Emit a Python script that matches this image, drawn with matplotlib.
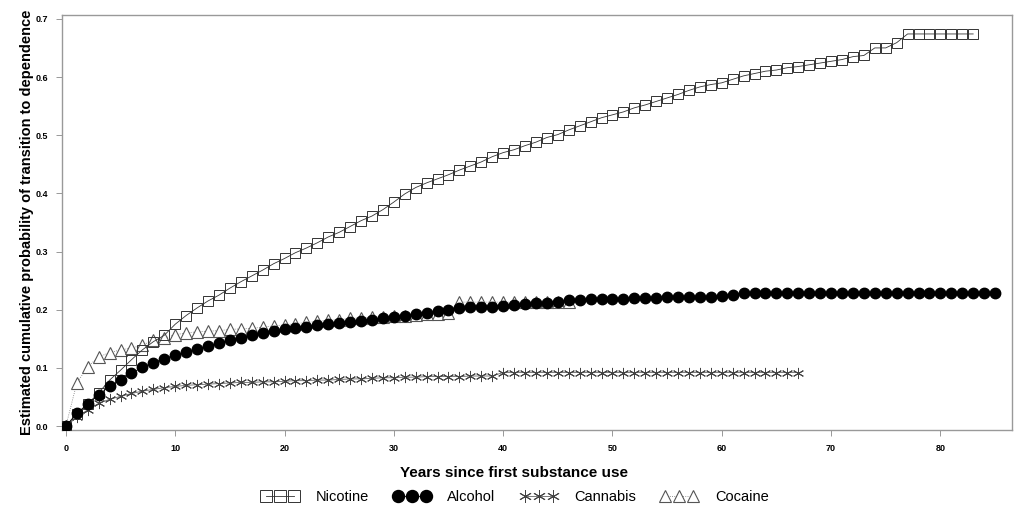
import numpy as np
import matplotlib
matplotlib.use("Agg")
from matplotlib import pyplot as plt

# cumulative probability of transition to dependence, one value per year
nicotine = [0.0, 0.02, 0.038, 0.057, 0.079, 0.096, 0.114, 0.131, 0.145, 0.156,
            0.175, 0.19, 0.203, 0.215, 0.225, 0.237, 0.248, 0.258, 0.268, 0.279,
            0.288, 0.298, 0.306, 0.315, 0.325, 0.333, 0.343, 0.353, 0.361, 0.372,
            0.385, 0.399, 0.41, 0.418, 0.425, 0.432, 0.44, 0.447, 0.454, 0.463,
            0.47, 0.475, 0.482, 0.488, 0.496, 0.501, 0.509, 0.516, 0.523, 0.53,
            0.535, 0.54, 0.547, 0.552, 0.558, 0.564, 0.57, 0.577, 0.583, 0.587,
            0.59, 0.596, 0.602, 0.606, 0.61, 0.612, 0.616, 0.618, 0.621, 0.624,
            0.627, 0.63, 0.635, 0.637, 0.65, 0.65, 0.659, 0.674, 0.674, 0.674,
            0.674, 0.674, 0.674, 0.674]
alcohol = [0.0, 0.022, 0.038, 0.054, 0.068, 0.079, 0.091, 0.101, 0.109, 0.116,
           0.122, 0.128, 0.133, 0.138, 0.143, 0.148, 0.152, 0.156, 0.16, 0.163,
           0.166, 0.169, 0.171, 0.173, 0.175, 0.177, 0.179, 0.181, 0.183, 0.186,
           0.188, 0.19, 0.193, 0.195, 0.197, 0.2, 0.203, 0.204, 0.205, 0.205,
           0.207, 0.208, 0.21, 0.211, 0.212, 0.214, 0.216, 0.217, 0.218, 0.218,
           0.219, 0.219, 0.22, 0.22, 0.22, 0.221, 0.221, 0.221, 0.222, 0.222,
           0.224, 0.225, 0.229, 0.229, 0.229, 0.229, 0.229, 0.229, 0.229, 0.229,
           0.229, 0.229, 0.229, 0.229, 0.229, 0.229, 0.229, 0.229, 0.229, 0.229,
           0.229, 0.229, 0.229, 0.229, 0.229, 0.229]
cannabis = [0.0, 0.015, 0.028, 0.039, 0.046, 0.051, 0.056, 0.06, 0.063, 0.066,
            0.068, 0.07, 0.071, 0.072, 0.073, 0.074, 0.075, 0.075, 0.076, 0.076,
            0.077, 0.078, 0.078, 0.079, 0.079, 0.08, 0.081, 0.081, 0.082, 0.083,
            0.083, 0.084, 0.084, 0.085, 0.085, 0.085, 0.085, 0.086, 0.086, 0.086,
            0.092, 0.092, 0.092, 0.092, 0.092, 0.092, 0.092, 0.092, 0.092, 0.092,
            0.092, 0.092, 0.092, 0.092, 0.092, 0.092, 0.092, 0.092, 0.092, 0.092,
            0.092, 0.092, 0.092, 0.092, 0.092, 0.092, 0.092, 0.092]
cocaine = [0.0, 0.074, 0.102, 0.119, 0.126, 0.131, 0.134, 0.139, 0.148, 0.151,
           0.157, 0.16, 0.162, 0.163, 0.164, 0.166, 0.167, 0.168, 0.17, 0.172,
           0.174, 0.176, 0.178, 0.18, 0.182, 0.183, 0.185, 0.186, 0.187, 0.188,
           0.189, 0.19, 0.191, 0.192, 0.193, 0.194, 0.213, 0.213, 0.213, 0.213,
           0.213, 0.213, 0.213, 0.213, 0.213, 0.213, 0.213]

x_ticks = [0, 10, 20, 30, 40, 50, 60, 70, 80]
y_ticks = [0.0, 0.1, 0.2, 0.3, 0.4, 0.5, 0.6, 0.7]

plt.rcParams['font.family'] = ['Liberation Sans', 'DejaVu Sans']

fig = plt.figure(figsize=(10.14, 5.09), dpi=100)
ax = fig.add_axes([0.061, 0.155, 0.937, 0.816])

ax.plot(np.arange(len(cocaine)), cocaine, color='#777777', lw=0.6, ls=':',
        marker='^', ms=8, mfc='white', mec='#555555', mew=0.8, label='Cocaine', zorder=2)
ax.plot(np.arange(len(nicotine)), nicotine, color='#333333', lw=0.6,
        marker='s', ms=7.5, mfc='none', mec='#333333', mew=0.7, label='Nicotine', zorder=3)
ax.plot(np.arange(len(cannabis)), cannabis, color='#666666', lw=0.6,
        marker=(6, 2, 0), ms=8, mec='#444444', mew=0.7, label='Cannabis', zorder=3)
ax.plot(np.arange(len(alcohol)), alcohol, color='black', lw=0.6,
        marker='o', ms=7.5, mfc='black', mec='black', label='Alcohol', zorder=4)

ax.set_xlim(-0.37, 86.55)
ax.set_ylim(-0.007, 0.707)
ax.set_xticks(x_ticks)
ax.set_xticklabels([str(v) for v in x_ticks])
ax.set_yticks(y_ticks)
ax.set_yticklabels([f"{v:.1f}" for v in y_ticks])
ax.tick_params(labelsize=6.5, length=4, width=0.6, color='#888888', pad=6)
for lbl in ax.get_xticklabels() + ax.get_yticklabels():
    lbl.set_fontweight('bold')
for sp in ax.spines.values():
    sp.set_color('#999999')
    sp.set_linewidth(1.0)

ax.set_xlabel('Years since first substance use', fontsize=11, fontweight='bold')
ax.xaxis.set_label_coords(0.476, -0.087)
ax.set_ylabel('Estimated cumulative probability of transition to dependence',
              fontsize=10.5, fontweight='bold')
ax.yaxis.set_label_coords(-0.029, 0.5)

h, l = ax.get_legend_handles_labels()
order = [l.index(n) for n in ['Nicotine', 'Alcohol', 'Cannabis', 'Cocaine']]
fig.legend([h[i] for i in order], [l[i] for i in order], loc='center',
           bbox_to_anchor=(0.508, 0.024), ncol=4, frameon=False, numpoints=3,
           handlelength=2.5, fontsize=10.5, columnspacing=1.7, handletextpad=1.2,
           markerscale=1.15)

fig.savefig('out.png', dpi=100)
